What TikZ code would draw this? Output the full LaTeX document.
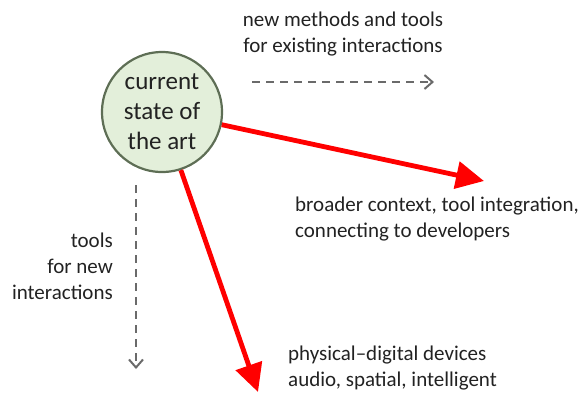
\documentclass[tikz,border=0pt]{standalone}
\usepackage{fontspec}
\setmainfont{Carlito}
\usetikzlibrary{arrows.meta}
\definecolor{circfill}{HTML}{E3EFDA}
\definecolor{circdraw}{HTML}{5E6E55}
\definecolor{dgray}{HTML}{6A6A6A}
\definecolor{txt}{HTML}{222222}
\tikzset{
  lbl/.style={text=txt, font=\fontsize{21}{26}\selectfont, inner sep=0pt},
  redarrow/.style={draw=red, line width=4.8pt, -{Triangle[length=28pt,width=27pt]}},
  grayarrow/.style={draw=dgray, line width=2pt, dash pattern=on 8pt off 6pt, -{Straight Barb[length=8pt,width=14pt,line width=2pt]}}
}
\begin{document}
\begin{tikzpicture}[x=1pt,y=-1pt]
\useasboundingbox (0,0) rectangle (584,392);
\node[circle, draw=circdraw, line width=2.2pt, fill=circfill, minimum size=120pt, inner sep=0pt,
  align=center, text=txt, font=\fontsize{25}{30}\selectfont] (c) at (162,112) {current\\state of\\the art};
\node[lbl, align=center, anchor=north] (t1) at (343,12) {new methods and tools\\for existing interactions};
\coordinate (h1) at (252,82);
\coordinate (h2) at (434,82);
\draw[grayarrow] (h1) -- (h2);
\coordinate (r1) at (484,181);
\draw[redarrow] (c.-12) -- (r1);
\node[lbl, align=left, anchor=north west] (t2) at (295,197) {broader context, tool integration,\\connecting to developers};
\coordinate (r2) at (258,392);
\draw[redarrow] (c.-72) -- (r2);
\coordinate (v1) at (136,185);
\coordinate (v2) at (136,369);
\draw[grayarrow] (v1) -- (v2);
\node[lbl, align=right, anchor=north east] (t3) at (113,233) {tools\\for new\\interactions};
\node[lbl, align=left, anchor=north west] (t4) at (288,346) {physical–digital devices\\audio, spatial, intelligent};
\end{tikzpicture}
\end{document}
